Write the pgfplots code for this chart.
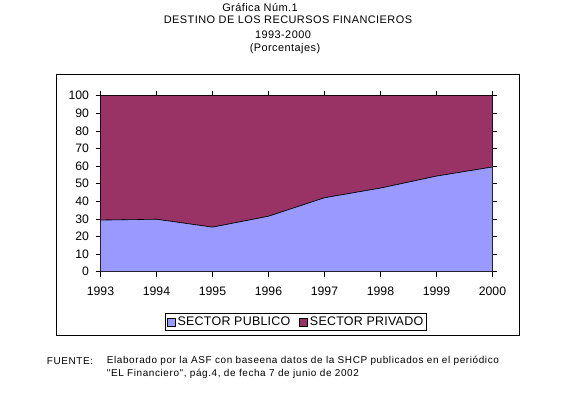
\documentclass[border=0pt]{standalone}
\usepackage{pgfplots}
\pgfplotsset{compat=1.18}
\usepackage{fontspec}
\setmainfont{Liberation Sans}
\newfontfamily\tfont[LetterSpace=4]{Liberation Sans}
\newfontfamily\lfont[LetterSpace=2]{Liberation Sans}
\newfontfamily\ffont[LetterSpace=6]{Liberation Sans}
\definecolor{pub}{HTML}{9999FF}
\definecolor{priv}{HTML}{993366}
\begin{document}
\begin{tikzpicture}
\path[use as bounding box] (0,0) rectangle (576bp,394bp);
\draw[line width=0.6bp] (56.7bp,394bp-335bp) rectangle (519.3bp,394bp-74.3bp);
\begin{axis}[
 at={(100.5bp,122.3bp)}, anchor=south west,
 scale only axis, width=392bp, height=176bp,
 xmin=1993, xmax=2000, ymin=0, ymax=100,
 xtick={1993,...,2000}, ytick={0,10,...,100},
 stack plots=y,
 tick align=outside, major tick length=5bp,
 tick style={black, line width=0.6bp},
 axis line style={line width=0.6bp},
 /pgf/number format/assume math mode=true,
 x tick label style={/pgf/number format/1000 sep={}, yshift=-6.5bp},
 y tick label style={xshift=-3bp},
 ticklabel style={font=\fontsize{12.3}{14}\selectfont},
 legend style={at={(0.499,-0.286)}, anchor=center, legend columns=2,
   font=\lfont\fontsize{12.5}{13}\selectfont, draw=black, line width=0.6bp,
   inner xsep=1.5bp, inner ysep=1.5bp,
   /tikz/every even column/.append style={column sep=7bp}},
 legend image code/.code={\draw[#1,draw=black,line width=0.6bp] (0bp,-4bp) rectangle (8bp,4bp);},
]
\addplot[fill=pub, draw=black, line width=0.6bp] coordinates {
(1993,29.3) (1994,29.8) (1995,25.3) (1996,31.5) (1997,42.0) (1998,47.5) (1999,54.3) (2000,59.5)} \closedcycle;
\addplot[fill=priv, draw=black, line width=0.6bp] coordinates {
(1993,70.7) (1994,70.2) (1995,74.7) (1996,68.5) (1997,58.0) (1998,52.5) (1999,45.7) (2000,40.5)} \closedcycle;
\legend{SECTOR PUBLICO, SECTOR PRIVADO}
\end{axis}
\begin{scope}[font=\tfont\fontsize{11}{13}\selectfont]
\node at (260bp,394bp-7.5bp) {Gráfica Núm.1};
\node at (288bp,394bp-20bp) {DESTINO DE LOS RECURSOS FINANCIEROS};
\node at (283bp,394bp-35bp) {1993-2000};
\node at (285bp,394bp-49bp) {(Porcentajes)};
\end{scope}
\begin{scope}[font=\ffont\fontsize{10}{12}\selectfont]
\node[anchor=west,inner xsep=0pt] at (46.7bp,394bp-361bp) {FUENTE:};
\node[anchor=west,inner xsep=0pt] at (106.7bp,394bp-361bp) {Elaborado por la ASF con baseena datos de la SHCP publicados en el periódico};
\node[anchor=west,inner xsep=0pt] at (106.7bp,394bp-374bp) {"EL Financiero", pág.4, de fecha 7 de junio de 2002};
\end{scope}
\end{tikzpicture}
\end{document}
